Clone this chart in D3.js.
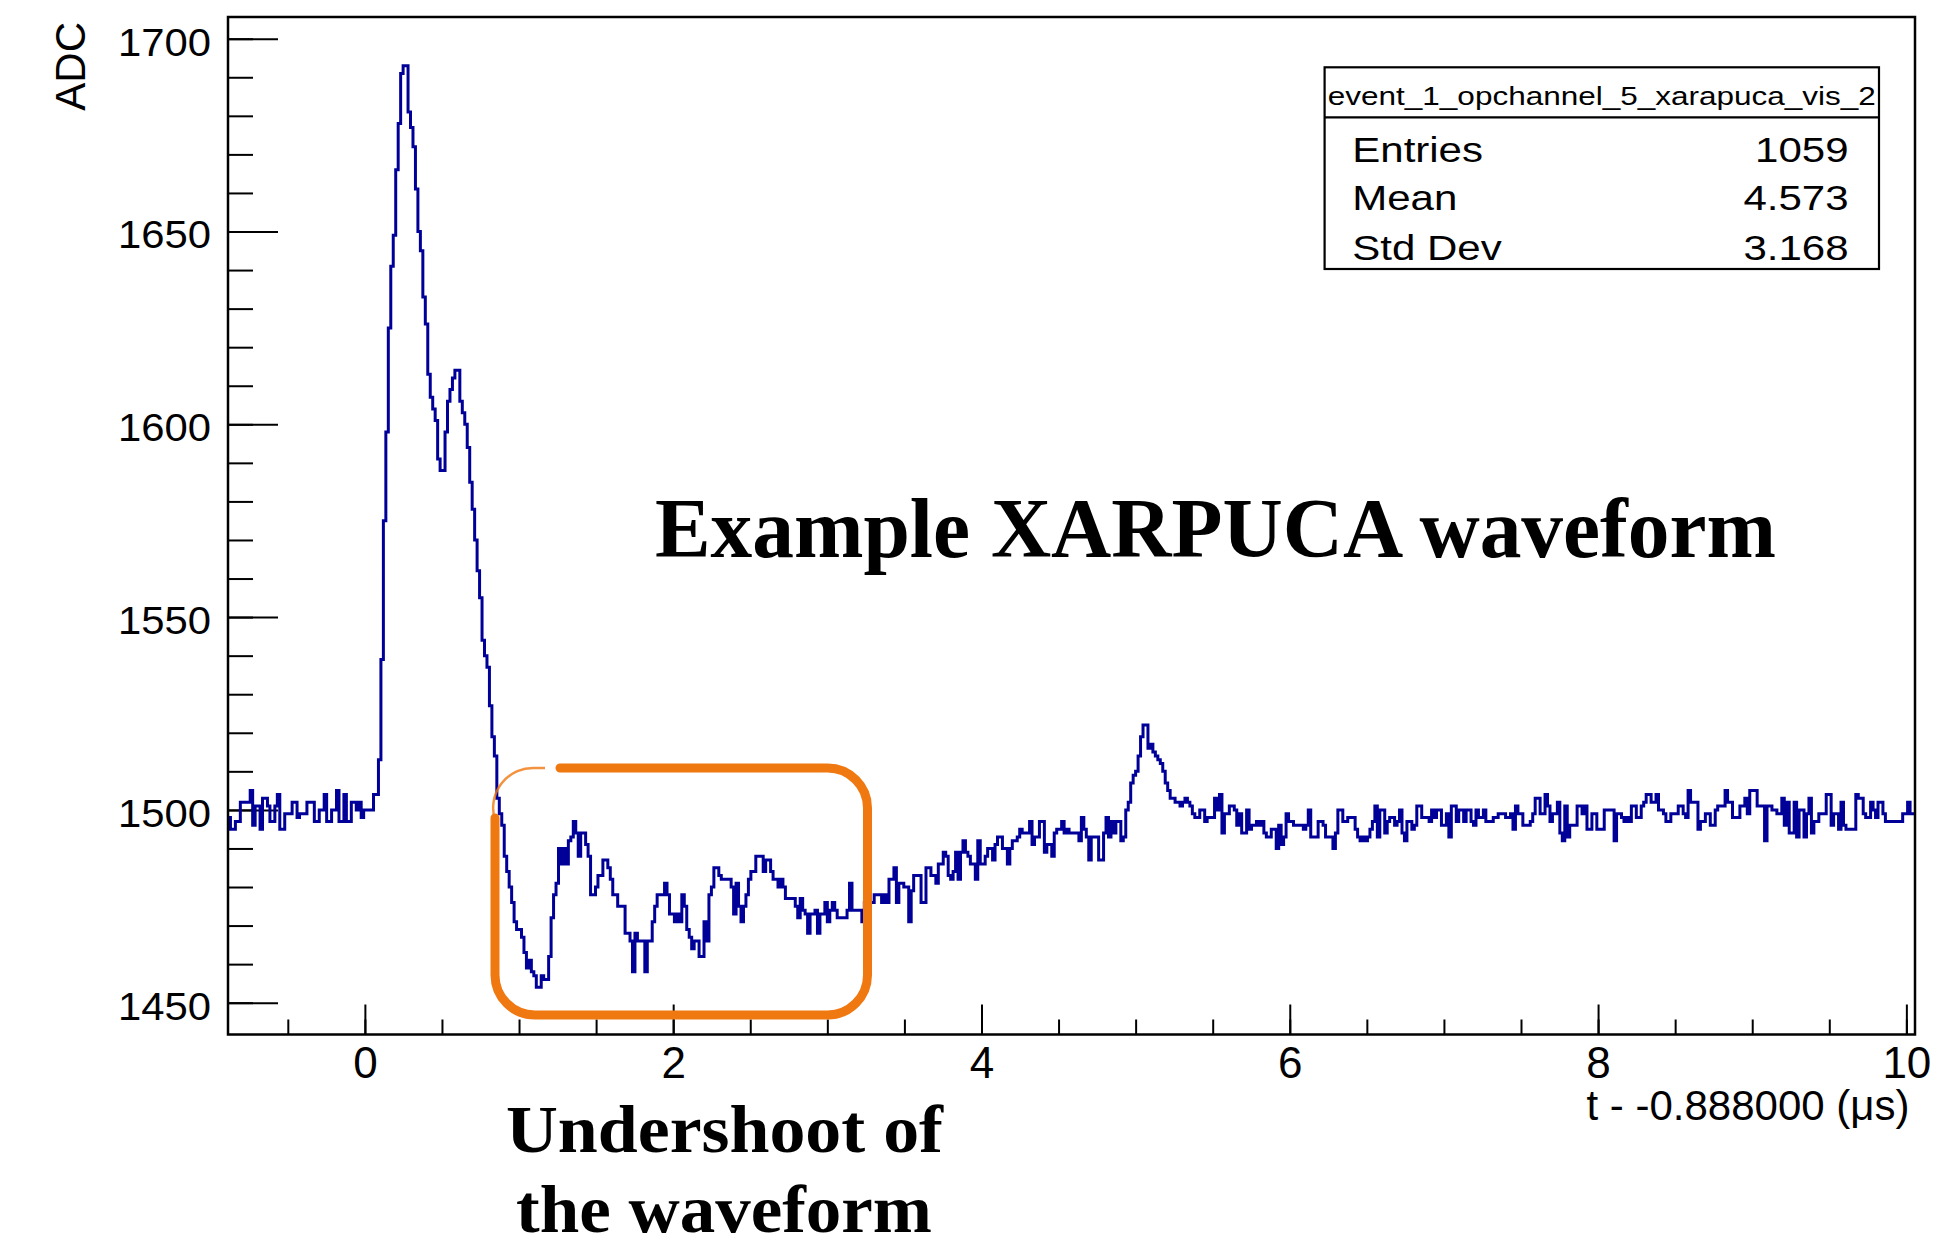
<!DOCTYPE html>
<html>
<head>
<meta charset="utf-8">
<script src="https://cdn.jsdelivr.net/npm/d3@7"></script>
<style>
  body { margin: 0; background: #fff; }
  svg { display: block; }
  text { font-family: "Liberation Sans", Arial, Helvetica, sans-serif; fill: #000; }
</style>
</head>
<body>
<svg class="chart" width="1946" height="1248"></svg>
<script>
// ADC per 16 ns bin, first bin starts at t = -0.888 us
const baseline = [
  1498,1495,1495,1497,1497,1502,1502,1502,1502,1505,
  1496,1501,1501,1495,1503,1503,1501,1497,1497,1501,
  1504,1495,1495,1499,1499,1499,1502,1502,1498,1499,
  1499,1499,1502,1502,1502,1497,1497,1500,1500,1504,
  1497,1497,1500,1500,1505,1497,1497,1504,1497,1497,
  1502,1502,1500,1502,1498,1500,1500,1500,1500,1504
];
const pulse = [
  1504,1513,1539,1575,1598,1625,1641,1649,1666,1678,
  1691,1693,1693,1681,1677,1672,1661,1650,1645,1633,
  1626,1613,1607,1604,1601,1591,1588,1588,1598,1606,
  1609,1612,1614,1614,1606,1603,1600,1594,1585,1578,
  1570,1562,1555,1544,1540,1537,1527,1519,1514,1503,
  1499,1496,1488
];
const undershoot = [
  1484,1480,1476,1471,1469,1469,1467,1463,1459,1461,
  1458,1457,1454,1454,1457,1456,1456,1462,1472,1478,
  1481,1490,1486,1490,1486,1492,1493,1497,1494,1488,
  1494,1494,1491,1488,1478,1478,1480,1483,1483,1487,
  1487,1485,1482,1478,1478,1475,1475,1475,1468,1468,
  1466,1458,1468,1466,1466,1466,1458,1466,1466,1471,
  1475,1478,1478,1478,1481,1478,1473,1473,1471,1473,
  1471,1478,1475,1469,1467,1464,1466,1466,1462,1462,
  1471,1466,1478,1480,1485,1485,1483,1482,1482,1482,
  1482,1480,1473,1481,1475,1471,1475,1478,1482,1484,
  1484,1488,1488,1488,1484,1487,1487,1484,1482,1482,
  1480,1482,1480,1477,1477,1477,1477,1475,1472,1477,
  1474,1473,1468,1473,1473,1474,1468,1473,1473,1476,
  1471,1474,1476,1474,1472,1472,1472,1472,1474,1481,
  1474,1474,1474,1474,1471,1476,1476,1476,1476,1478,
  1478,1478,1476,1478,1476,1482,1482,1485,1476
];
const recovery = [
  1481,1481,1480,1480,1471,1479,1483,1483,1483,1476,
  1476,1485,1485,1483,1483,1481,1486,1486,1489,1488,
  1483,1482,1484,1489,1482,1489,1492,1489,1488,1486,
  1486,1482,1492,1486,1486,1488,1490,1490,1487,1491,
  1493,1493,1490,1490,1486,1490,1492,1492,1493,1495,
  1494,1494,1494,1497,1491,1493,1493,1497,1497,1489,
  1491,1491,1488,1494,1495,1495,1497,1494,1495,1494,
  1494,1494,1494,1492,1498,1495,1493,1487,1493,1493,
  1493,1487,1487,1494,1498,1493,1497,1494,1497,1497,
  1492,1493
];
const bump = [
  1500,1502,1507,1509,1510,1514,1519,1522,1522,1516,
  1517,1515,1514,1513,1512,1510,1507,1505,1503,1503,
  1502,1502,1501,1502,1503,1502,1501,1499,1498,1498,
  1500,1500,1497,1498,1498,1498,1503,1500,1504,1494,
  1499,1499,1501,1501,1500,1496,1499,1494,1494,1500,
  1495,1496,1496,1497,1496,1497,1494,1493,1493,1495,
  1495,1490,1496,1491,1493,1499,1497
];
const tail = [
  1497,1496,1496,1496,1496,1495,1496,1500,1493,1493,
  1493,1497,1497,1496,1493,1493,1493,1490,1494,1500,
  1500,1497,1497,1498,1498,1498,1495,1493,1492,1493,
  1492,1493,1495,1497,1501,1493,1500,1500,1494,1497,
  1498,1498,1496,1497,1500,1494,1492,1497,1497,1495,
  1496,1501,1501,1498,1498,1498,1497,1500,1498,1500,
  1500,1496,1496,1499,1493,1501,1501,1497,1500,1500,
  1497,1500,1500,1497,1496,1500,1498,1498,1500,1497,
  1497,1497,1498,1498,1499,1499,1499,1498,1498,1499,
  1495,1501,1499,1499,1496,1496,1496,1497,1499,1503,
  1503,1499,1499,1504,1501,1497,1499,1499,1502,1494,
  1492,1501,1493,1496,1496,1496,1501,1501,1499,1501,
  1495,1495,1499,1499,1495,1495,1495,1500,1500,1500,
  1500,1492,1499,1499,1498,1497,1498,1497,1501,1501,
  1498,1498,1501,1502,1504,1504,1502,1502,1504,1500,
  1500,1499,1497,1497,1499,1499,1499,1501,1501,1499,
  1498,1505,1502,1502,1502,1495,1497,1497,1499,1499,
  1496,1496,1500,1501,1501,1501,1505,1502,1502,1498,
  1498,1498,1501,1501,1503,1499,1505,1505,1505,1501,
  1501,1501,1492,1501,1501,1500,1500,1499,1499,1503,
  1496,1502,1494,1494,1502,1493,1500,1500,1493,1499,
  1503,1494,1497,1497,1499,1499,1499,1504,1504,1496,
  1499,1499,1495,1502,1496,1495,1495,1495,1495,1504,
  1503,1503,1499,1498,1498,1502,1500,1498,1502,1502,
  1499,1497,1497,1497,1497,1497,1497,1497,1499,1499,
  1502,1499,1499
];

const binStart = -0.888;
const binWidth = 0.016;
const xTicks = [0, 2, 4, 6, 8, 10];
const yTicks = [1450, 1500, 1550, 1600, 1650, 1700];
const histName = "event_1_opchannel_5_xarapuca_vis_2";
const statRows = [["Entries", "1059"], ["Mean", "4.573"], ["Std Dev", "3.168"]];

// config
const frame = { left: 228, right: 1915, top: 17, bottom: 1034.5 };
const lineColor = "#000099";
const markColor = "#f07810";
const serif = "'Liberation Serif', 'Times New Roman', serif";

const svg = d3.select("svg.chart");
svg.append("rect").attr("width", 1946).attr("height", 1248).attr("fill", "#fff");

const values = [...baseline, ...pulse, ...undershoot, ...recovery, ...bump, ...tail];
const binEnd = binStart + values.length * binWidth;

const x = d3.scaleLinear().domain([binStart, binEnd]).range([frame.left, frame.right]);
const y = d3.scaleLinear().domain([1441.75, 1705.63]).range([frame.bottom, frame.top]);

// y axis (ticks point inward, like ROOT)
const yMinor = d3.range(1450, 1701, 10);
svg.append("g")
  .attr("transform", `translate(${frame.left},0)`)
  .call(d3.axisLeft(y).tickValues(yMinor).tickSize(-25).tickSizeOuter(0).tickFormat(""))
  .call(g => g.select(".domain").remove())
  .call(g => g.selectAll("line").attr("stroke", "#000").attr("stroke-width", 2));

svg.append("g")
  .attr("transform", `translate(${frame.left},0)`)
  .call(d3.axisLeft(y).tickValues(yTicks).tickSize(-50).tickSizeOuter(0).tickPadding(15.5)
    .tickFormat(d3.format("d")))
  .call(g => g.select(".domain").remove())
  .call(g => g.selectAll("line").attr("stroke", "#000").attr("stroke-width", 2))
  .call(g => g.selectAll("text")
    .attr("font-size", 38)
    .attr("fill", "#000")
    .attr("dy", "0.43em")
    .attr("transform", "scale(1.1,1)"));

// x axis
const xMinor = d3.range(-0.5, 10.01, 0.5);
svg.append("g")
  .attr("transform", `translate(0,${frame.bottom})`)
  .call(d3.axisBottom(x).tickValues(xMinor).tickSize(-15).tickSizeOuter(0).tickFormat(""))
  .call(g => g.select(".domain").remove())
  .call(g => g.selectAll("line").attr("stroke", "#000").attr("stroke-width", 2));

svg.append("g")
  .attr("transform", `translate(0,${frame.bottom})`)
  .call(d3.axisBottom(x).tickValues(xTicks).tickSize(-30).tickSizeOuter(0).tickPadding(12)
    .tickFormat(d3.format("d")))
  .call(g => g.select(".domain").remove())
  .call(g => g.selectAll("line").attr("stroke", "#000").attr("stroke-width", 2))
  .call(g => g.selectAll("text")
    .attr("font-size", 44)
    .attr("fill", "#000"));

// axis titles
svg.append("text")
  .attr("transform", "translate(85,22) rotate(-90)")
  .attr("text-anchor", "end")
  .attr("font-size", 42)
  .text("ADC");

svg.append("text")
  .attr("x", 1909.5).attr("y", 1120)
  .attr("text-anchor", "end")
  .attr("font-size", 42)
  .text("t - -0.888000 (\u03BCs)");

// histogram, drawn as steps
svg.append("clipPath").attr("id", "plot-clip")
  .append("rect")
  .attr("x", frame.left).attr("y", frame.top)
  .attr("width", frame.right - frame.left).attr("height", frame.bottom - frame.top);

const steps = values.map((v, i) => [binStart + i * binWidth, v]);
steps.push([binEnd, values[values.length - 1]]);

svg.append("path")
  .datum(steps)
  .attr("clip-path", "url(#plot-clip)")
  .attr("fill", "none")
  .attr("stroke", lineColor)
  .attr("stroke-width", 3)
  .attr("stroke-linejoin", "miter")
  .attr("d", d3.line().x(d => x(d[0])).y(d => y(d[1])).curve(d3.curveStepAfter));

// frame
svg.append("rect")
  .attr("x", frame.left).attr("y", frame.top)
  .attr("width", frame.right - frame.left).attr("height", frame.bottom - frame.top)
  .attr("fill", "none").attr("stroke", "#000").attr("stroke-width", 2.5);

// stats box
const box = { x: 1324.6, y: 67.3, w: 554.4, h: 201.7, split: 117.3 };
svg.append("rect")
  .attr("x", box.x).attr("y", box.y).attr("width", box.w).attr("height", box.h)
  .attr("fill", "#fff").attr("stroke", "#000").attr("stroke-width", 2.2);
svg.append("line")
  .attr("x1", box.x).attr("x2", box.x + box.w)
  .attr("y1", box.split).attr("y2", box.split)
  .attr("stroke", "#000").attr("stroke-width", 2.2);
svg.append("text")
  .attr("x", box.x + box.w / 2).attr("y", 104.5)
  .attr("text-anchor", "middle")
  .attr("font-size", 25)
  .attr("textLength", 548).attr("lengthAdjust", "spacingAndGlyphs")
  .text(histName);

const rowY = [161.7, 210, 259.5];
statRows.forEach(([label, val], i) => {
  svg.append("text")
    .attr("transform", `translate(1352.3,${rowY[i]}) scale(1.2,1)`)
    .attr("font-size", 35)
    .text(label);
  svg.append("text")
    .attr("transform", `translate(1848.5,${rowY[i]}) scale(1.2,1)`)
    .attr("text-anchor", "end")
    .attr("font-size", 35)
    .text(val);
});

// annotations (serif, set as style so the css rule does not win)
svg.append("text")
  .attr("x", 655).attr("y", 557.3)
  .style("font-family", serif).style("font-weight", "bold").attr("font-size", 84)
  .attr("textLength", 1121).attr("lengthAdjust", "spacingAndGlyphs")
  .text("Example XARPUCA waveform");

svg.append("text")
  .attr("x", 506).attr("y", 1152)
  .style("font-family", serif).style("font-weight", "bold").attr("font-size", 68)
  .attr("textLength", 437).attr("lengthAdjust", "spacingAndGlyphs")
  .text("Undershoot of");

svg.append("text")
  .attr("x", 516).attr("y", 1232)
  .style("font-family", serif).style("font-weight", "bold").attr("font-size", 68)
  .attr("textLength", 416).attr("lengthAdjust", "spacingAndGlyphs")
  .text("the waveform");

// hand-drawn box round the undershoot
const ob = { l: 495, r: 867.5, t: 768, b: 1015, rad: 40 };
svg.append("path")
  .attr("fill", "none").attr("stroke", markColor).attr("stroke-width", 9)
  .attr("stroke-linecap", "round").attr("stroke-linejoin", "round")
  .attr("d", `M 560 ${ob.t} H ${ob.r - ob.rad} A ${ob.rad} ${ob.rad} 0 0 1 ${ob.r} ${ob.t + ob.rad}
    V ${ob.b - ob.rad} A ${ob.rad} ${ob.rad} 0 0 1 ${ob.r - ob.rad} ${ob.b}
    H ${ob.l + ob.rad} A ${ob.rad} ${ob.rad} 0 0 1 ${ob.l} ${ob.b - ob.rad}
    V ${ob.t + ob.rad + 10}`);
svg.append("path")
  .attr("fill", "none").attr("stroke", markColor).attr("stroke-width", 2.5)
  .attr("opacity", 0.8)
  .attr("d", `M ${ob.l} ${ob.t + ob.rad + 12} A ${ob.rad} ${ob.rad} 0 0 1 ${ob.l + ob.rad} ${ob.t} H 545`);
</script>
</body>
</html>
